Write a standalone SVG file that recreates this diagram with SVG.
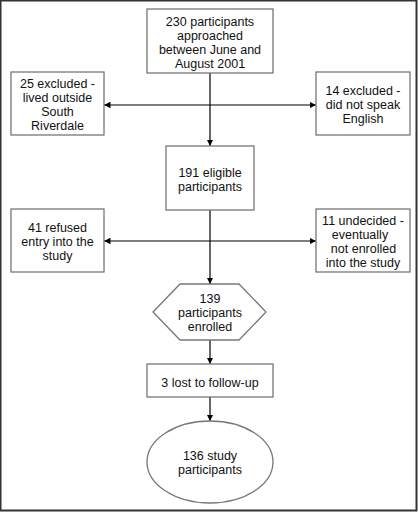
<svg xmlns="http://www.w3.org/2000/svg" width="418" height="512" viewBox="0 0 418 512">
<defs>
<marker id="ah" viewBox="0 0 10 10" refX="10" refY="5" markerWidth="6.5" markerHeight="6.5" markerUnits="userSpaceOnUse" orient="auto">
<path d="M0,0 L10,5 L0,10 z" fill="#000"/>
</marker>
</defs>
<style>
.box{fill:#fff;stroke:#777;stroke-width:1.3}
.t{font-family:"Liberation Sans",Arial,sans-serif;font-size:12.5px;fill:#111;text-anchor:middle;dominant-baseline:central}
.c{stroke:#000;stroke-width:1.2;fill:none}
</style>
<rect x="0.5" y="0.5" width="416" height="510" fill="#fff" stroke="#333" stroke-width="2"/>
<g id="connectors">
<line class="c" x1="210" y1="73" x2="210" y2="146" marker-end="url(#ah)"/>
<line class="c" x1="210" y1="105" x2="104" y2="105" marker-end="url(#ah)"/>
<line class="c" x1="210" y1="105" x2="316" y2="105" marker-end="url(#ah)"/>
<line class="c" x1="210" y1="210" x2="210" y2="284" marker-end="url(#ah)"/>
<line class="c" x1="210" y1="241" x2="104" y2="241" marker-end="url(#ah)"/>
<line class="c" x1="210" y1="241" x2="316" y2="241" marker-end="url(#ah)"/>
<line class="c" x1="210" y1="340" x2="210" y2="364" marker-end="url(#ah)"/>
<line class="c" x1="210" y1="397" x2="210" y2="421" marker-end="url(#ah)"/>
</g>
<g id="n_approached">
<rect class="box" x="147" y="9" width="126" height="64"/>
<text class="t" x="210" y="22">230 participants</text>
<text class="t" x="210" y="36">approached</text>
<text class="t" x="210" y="50">between June and</text>
<text class="t" x="210" y="64">August 2001</text>
</g>
<g id="n_excl_outside">
<rect class="box" x="11" y="72" width="93" height="63"/>
<text class="t" x="57.5" y="84">25 excluded -</text>
<text class="t" x="57.5" y="98">lived outside</text>
<text class="t" x="57.5" y="112">South</text>
<text class="t" x="57.5" y="126">Riverdale</text>
</g>
<g id="n_excl_english">
<rect class="box" x="316" y="72" width="94" height="63"/>
<text class="t" x="363" y="91">14 excluded -</text>
<text class="t" x="363" y="105">did not speak</text>
<text class="t" x="363" y="119">English</text>
</g>
<g id="n_eligible">
<rect class="box" x="166" y="146" width="88" height="64"/>
<text class="t" x="210" y="173">191 eligible</text>
<text class="t" x="210" y="187">participants</text>
</g>
<g id="n_refused">
<rect class="box" x="11" y="209" width="93" height="63"/>
<text class="t" x="57.5" y="228">41 refused</text>
<text class="t" x="57.5" y="242">entry into the</text>
<text class="t" x="57.5" y="256">study</text>
</g>
<g id="n_undecided">
<rect class="box" x="316" y="209" width="94" height="63"/>
<text class="t" x="363" y="221">11 undecided -</text>
<text class="t" x="360" y="235">eventually</text>
<text class="t" x="363.5" y="249">not enrolled</text>
<text class="t" x="363" y="263">into the study</text>
</g>
<g id="n_enrolled">
<polygon class="box" points="153,312 180,284 239,284 266,312 239,340 180,340"/>
<text class="t" x="210" y="299">139</text>
<text class="t" x="210" y="313">participants</text>
<text class="t" x="210" y="327">enrolled</text>
</g>
<g id="n_lost">
<rect class="box" x="147" y="364" width="126" height="33"/>
<text class="t" x="210" y="383">3 lost to follow-up</text>
</g>
<g id="n_study">
<ellipse class="box" cx="210" cy="462" rx="63" ry="41"/>
<text class="t" x="210" y="456">136 study</text>
<text class="t" x="210" y="470">participants</text>
</g>
</svg>
